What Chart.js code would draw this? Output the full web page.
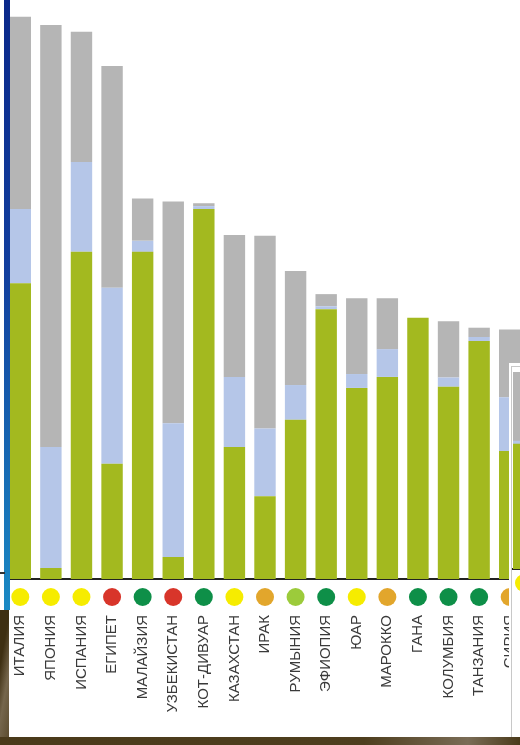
<!DOCTYPE html>
<html><head><meta charset="utf-8">
<script src="https://cdn.jsdelivr.net/npm/chart.js@4.4.1/dist/chart.umd.min.js"></script>
<style>
html,body{margin:0;padding:0;width:520px;height:745px;overflow:hidden;background:#fff;position:relative}
.abs{position:absolute}
</style></head><body>
<div class="abs" style="left:0;top:0;width:530px;height:745px"><canvas id="main" width="530" height="745"></canvas></div>
<div class="abs" style="left:4px;top:0;width:6px;height:610px;background:linear-gradient(#0a288a,#123f9e 45%,#1a8ac4)"></div>
<div class="abs" style="left:0;top:572px;width:5px;height:2px;background:#333"></div>
<div class="abs" style="left:0;top:610px;width:9px;height:135px;background:linear-gradient(100deg,#3e2f12 30%,#75664c 60%,#5a4a2c)"></div>
<div class="abs" style="left:0;top:737px;width:520px;height:8px;background:linear-gradient(90deg,#4a3a1a,#4e3e1e 70%,#7a6c56 90%,#4a3a1a)"></div>
<div class="abs" style="left:509px;top:363px;width:30px;height:374px;background:#fff">
  <div class="abs" style="left:2px;top:3px;width:30px;height:370px;border-left:1px solid #c8c8c8;border-top:1px solid #c8c8c8">
    <canvas id="inset" width="40" height="280"></canvas>
  </div>
</div>
<script>
const categories = ["ИТАЛИЯ","ЯПОНИЯ","ИСПАНИЯ","ЕГИПЕТ","МАЛАЙЗИЯ","УЗБЕКИСТАН","КОТ-ДИВУАР","КАЗАХСТАН","ИРАК","РУМЫНИЯ","ЭФИОПИЯ","ЮАР","МАРОККО","ГАНА","КОЛУМБИЯ","ТАНЗАНИЯ","СИРИЯ"];
const greenWater = [51.1, 1.9, 56.5, 19.9, 56.5, 3.8, 63.9, 22.8, 14.3, 27.5, 46.6, 33.0, 34.9, 45.1, 33.2, 41.1, 22.1];
const blueWater  = [12.8, 20.9, 15.5, 30.4, 1.9, 23.1, 0.5, 12.1, 11.7, 6.0, 0.5, 2.4, 4.8, 0.0, 1.6, 0.7, 9.3];
const greyWater  = [33.2, 72.9, 22.5, 38.3, 7.3, 38.3, 0.5, 24.5, 33.3, 19.7, 2.1, 13.1, 8.8, 0.0, 9.7, 1.6, 11.7];
const statusColors = ["#f6ec00","#f6ec00","#f6ec00","#d8352a","#0e8f48","#d8352a","#0e8f48","#f6ec00","#e2a62c","#9ccb3b","#0e8f48","#f6ec00","#e2a62c","#0e8f48","#0e8f48","#0e8f48","#e2a62c"];

const insetCategories = [""];
const insetGreen = [21.6];
const insetBlue = [0.5];
const insetGrey = [11.9];
const insetStatus = ["#f6ec00"];

const COLORS = {green:"#a3b91f", blue:"#b5c6e8", grey:"#b5b5b5"};

const dotPlugin = {
  id: 'dots',
  afterDatasetsDraw(chart, args, opts) {
    const xs = chart.scales.x, ctx = chart.ctx;
    ctx.save();
    opts.colors.forEach((c, i) => {
      const x = xs.getPixelForValue(i);
      const y = xs.top + opts.offset;
      ctx.beginPath();
      ctx.arc(x, y, opts.radius, 0, Math.PI * 2);
      ctx.fillStyle = c;
      ctx.fill();
    });
    ctx.restore();
  }
};

function makeChart(id, labels, g, b, gr, colors, cfg) {
  return new Chart(document.getElementById(id), {
    type: 'bar',
    data: {
      labels: labels,
      datasets: [
        {label: 'green', data: g, backgroundColor: COLORS.green, borderWidth: 0},
        {label: 'blue', data: b, backgroundColor: COLORS.blue, borderWidth: 0},
        {label: 'grey', data: gr, backgroundColor: COLORS.grey, borderWidth: 0}
      ]
    },
    options: {
      responsive: false,
      animation: false,
      events: [],
      layout: {padding: cfg.padding},
      datasets: {bar: {barPercentage: cfg.barPct, categoryPercentage: 1}},
      plugins: {
        legend: {display: false},
        tooltip: {enabled: false},
        dots: {colors: colors, offset: cfg.dotOffset, radius: 9}
      },
      scales: {
        x: {
          stacked: true,
          grid: {display: false, drawTicks: false},
          border: {display: true, color: '#222', width: 2},
          ticks: {
            display: cfg.showTicks,
            autoSkip: false, minRotation: 90, maxRotation: 90,
            padding: 36, color: '#3a3a3a',
            font: {family: "'Liberation Sans', Arial, sans-serif", size: 15}
          },
          afterFit: (s) => { s.height = cfg.axisHeight; s.paddingLeft = 0; s.paddingRight = 0; }
        },
        y: {stacked: true, display: false, min: 0, max: cfg.yMax}
      }
    },
    plugins: [dotPlugin]
  });
}

makeChart('main', categories, greenWater, blueWater, greyWater, statusColors,
  {padding: {left: 5, right: 5, top: 0, bottom: 0}, barPct: 0.7, dotOffset: 18, axisHeight: 166, yMax: 100, showTicks: true});

makeChart('inset', insetCategories, insetGreen, insetBlue, insetGrey, insetStatus,
  {padding: {left: 1, right: 17, top: 0, bottom: 0}, barPct: 1, dotOffset: 14, axisHeight: 78, yMax: 34.9, showTicks: false});
</script>
</body></html>
